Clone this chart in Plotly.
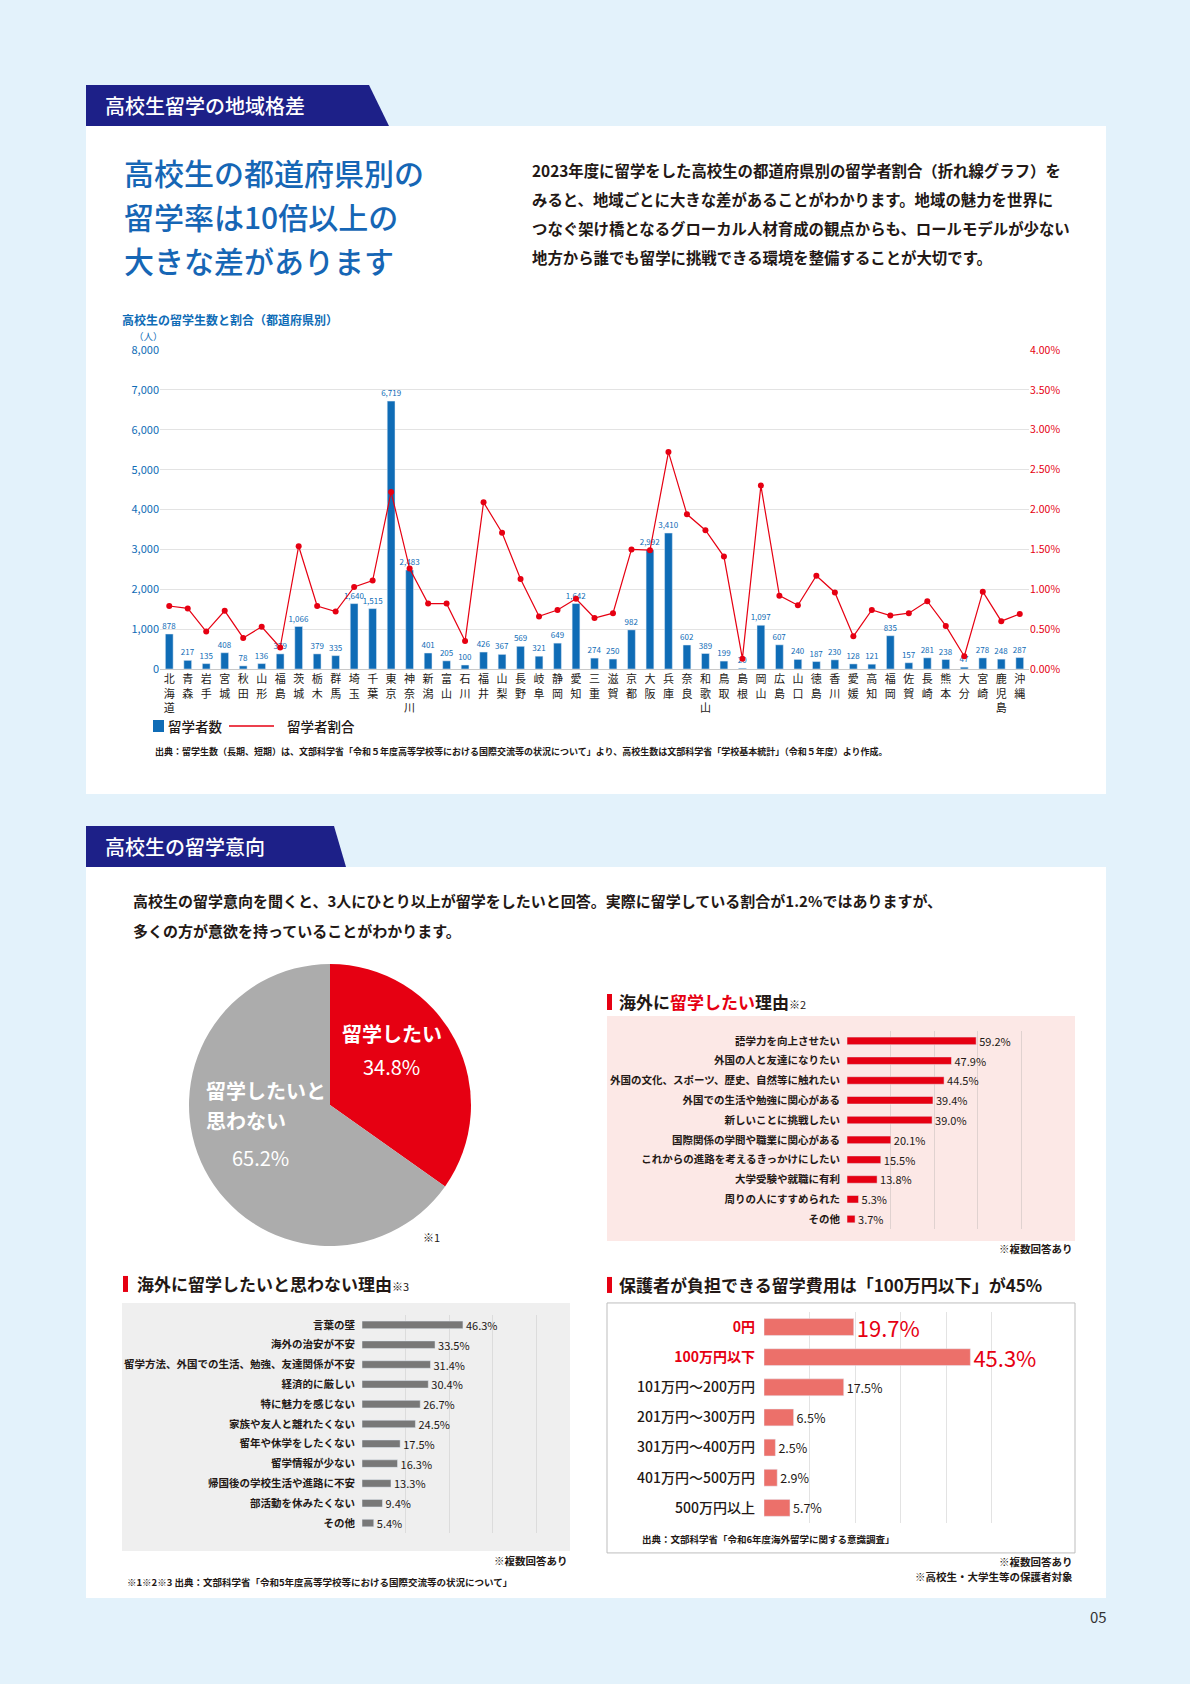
import plotly.graph_objects as go

W, H = 1190, 1684
FONT = "Noto Sans CJK JP"
BLUE = "#0f6cb6"
RED = "#e60012"
DARK = "#231815"
NAVY = "#1d2088"
BG = "#e3f2fb"

# --- data: prefecture chart ---
prefectures = [
    "北海道", "青森", "岩手", "宮城", "秋田", "山形", "福島", "茨城", "栃木", "群馬",
    "埼玉", "千葉", "東京", "神奈川", "新潟", "富山", "石川", "福井", "山梨", "長野",
    "岐阜", "静岡", "愛知", "三重", "滋賀", "京都", "大阪", "兵庫", "奈良", "和歌山",
    "鳥取", "島根", "岡山", "広島", "山口", "徳島", "香川", "愛媛", "高知", "福岡",
    "佐賀", "長崎", "熊本", "大分", "宮崎", "鹿児島", "沖縄",
]
students = [
    878, 217, 135, 408, 78, 136, 379, 1066, 379, 335,
    1640, 1515, 6719, 2483, 401, 205, 100, 426, 367, 569,
    321, 649, 1642, 274, 250, 982, 2992, 3410, 602, 389,
    199, 20, 1097, 607, 240, 187, 230, 128, 121, 835,
    157, 281, 238, 47, 278, 248, 287,
]
rate_pct = [
    0.79, 0.76, 0.47, 0.73, 0.39, 0.53, 0.27, 1.54, 0.79, 0.72,
    1.03, 1.11, 2.22, 1.26, 0.82, 0.82, 0.35, 2.09, 1.71, 1.13,
    0.66, 0.74, 0.88, 0.64, 0.70, 1.50, 1.49, 2.72, 1.94, 1.74,
    1.41, 0.13, 2.30, 0.92, 0.80, 1.17, 0.96, 0.41, 0.74, 0.67,
    0.70, 0.85, 0.54, 0.16, 0.97, 0.60, 0.69,
]

# --- data: intention pie ---
pie_labels = ["留学したい", "留学したいと思わない"]
pie_values = [34.8, 65.2]

# --- data: reasons to study abroad ---
want_reasons = [
    "語学力を向上させたい", "外国の人と友達になりたい", "外国の文化、スポーツ、歴史、自然等に触れたい",
    "外国での生活や勉強に関心がある", "新しいことに挑戦したい", "国際関係の学問や職業に関心がある",
    "これからの進路を考えるきっかけにしたい", "大学受験や就職に有利", "周りの人にすすめられた", "その他",
]
want_values = [59.2, 47.9, 44.5, 39.4, 39.0, 20.1, 15.5, 13.8, 5.3, 3.7]

# --- data: reasons not to ---
not_reasons = [
    "言葉の壁", "海外の治安が不安", "留学方法、外国での生活、勉強、友達関係が不安", "経済的に厳しい",
    "特に魅力を感じない", "家族や友人と離れたくない", "留年や休学をしたくない", "留学情報が少ない",
    "帰国後の学校生活や進路に不安", "部活動を休みたくない", "その他",
]
not_values = [46.3, 33.5, 31.4, 30.4, 26.7, 24.5, 17.5, 16.3, 13.3, 9.4, 5.4]

# --- data: cost parents can bear ---
cost_labels = ["0円", "100万円以下", "101万円～200万円", "201万円～300万円",
               "301万円～400万円", "401万円～500万円", "500万円以上"]
cost_values = [19.7, 45.3, 17.5, 6.5, 2.5, 2.9, 5.7]
cost_highlight = [True, True, False, False, False, False, False]


def fx(px):
    return px / W


def fy(py):
    # page shows the figure with an 8px top offset and slight vertical squeeze
    return 1 - (py * 1700 / 1684 - 8) / H


shapes = []
annotations = []


def rect(x0, y0, x1, y1, fill, line=None):
    shapes.append(dict(type="rect", xref="paper", yref="paper", layer="below",
                       x0=fx(x0), x1=fx(x1), y0=fy(y1), y1=fy(y0), fillcolor=fill,
                       line=dict(color=line or fill, width=1 if line else 0)))


def text(x, y, s, size=12, color=DARK, anchor="left", weight=None):
    f = dict(family=FONT, size=size, color=color)
    if weight:
        f["weight"] = weight
    annotations.append(dict(xref="paper", yref="paper", x=fx(x), y=fy(y), text=s,
                            showarrow=False, xanchor=anchor, yanchor="middle", font=f))


def tab(x0, x1, xtop, y0, y1, label):
    path = (f"M {fx(x0)} {fy(y0)} L {fx(xtop)} {fy(y0)} L {fx(x1)} {fy(y1)} "
            f"L {fx(x0)} {fy(y1)} Z")
    shapes.append(dict(type="path", xref="paper", yref="paper", path=path,
                       fillcolor=NAVY, line=dict(width=0)))
    text(x0 + 17, (y0 + y1) / 2, label, size=20, color="white", weight=500)


# page panels
rect(86, 125, 1106, 793, "white")
rect(86, 866, 1106, 1597, "white")
tab(86, 389, 369, 84, 125, "高校生留学の地域格差")
tab(86, 346, 334, 825, 866, "高校生の留学意向")

# section 1 texts
for i, line in enumerate(["高校生の都道府県別の", "留学率は10倍以上の", "大きな差があります"]):
    text(122, 171 + i * 44, line, size=30, color="#1666b5", weight=500)
para1 = [
    "2023年度に留学をした高校生の都道府県別の留学者割合（折れ線グラフ）を",
    "みると、地域ごとに大きな差があることがわかります。地域の魅力を世界に",
    "つなぐ架け橋となるグローカル人材育成の観点からも、ロールモデルが少ない",
    "地方から誰でも留学に挑戦できる環境を整備することが大切です。",
]
for i, line in enumerate(para1):
    text(530, 169 + i * 29, "<b>" + line + "</b>", size=15.4)

text(120, 318, "<b>高校生の留学生数と割合（都道府県別）</b>", size=12, color=BLUE)
text(148, 335, "（人）", size=9.5, color=BLUE, anchor="center")

# legend
rect(153, 719, 164, 731, BLUE)
text(166, 725, "留学者数", size=13.5, weight=500)
shapes.append(dict(type="line", xref="paper", yref="paper", x0=fx(229), x1=fx(274),
                   y0=fy(725), y1=fy(725), line=dict(color=RED, width=1.5)))
text(285, 725, "留学者割合", size=13.5, weight=500)
text(153, 750, "<b>出典：留学生数（長期、短期）は、文部科学省「令和５年度高等学校等における国際交流等の状況について」より、"
     "高校生数は文部科学省「学校基本統計」（令和５年度）より作成。</b>", size=9)

# section 2 texts
text(131, 900, "<b>高校生の留学意向を聞くと、3人にひとり以上が留学をしたいと回答。実際に留学している割合が1.2%ではありますが、</b>", size=15)
text(131, 930, "<b>多くの方が意欲を持っていることがわかります。</b>", size=15)

# pie labels
text(392, 1033, "<b>" + pie_labels[0] + "</b>", size=20, color="white", anchor="center")
text(391, 1066, f"{pie_values[0]}%", size=20, color="white", anchor="center")
text(204, 1090, "<b>留学したいと</b>", size=20, color="white")
text(204, 1120, "<b>思わない</b>", size=20, color="white")
text(260, 1157, f"{pie_values[1]}%", size=20, color="white", anchor="center")
text(421, 1236, "※1", size=11)

# bar chart boxes and headings
rect(607, 1015, 1075, 1240, "#fce8e6")
rect(122, 1302, 570, 1550, "#efefef")
rect(607, 1302, 1075, 1552, "white", line="#bdbdbd")
rect(607, 993, 612, 1009, RED)
rect(123, 1275, 128, 1291, RED)
rect(607, 1276, 612, 1292, RED)
text(617, 1001, "<b>海外に<span style='color:#e60012'>留学したい</span>理由</b>"
     "<span style='font-size:11px'>※2</span>", size=17)
text(135, 1283, "<b>海外に留学したいと思わない理由</b><span style='font-size:11px'>※3</span>", size=17)
text(617, 1284, "<b>保護者が負担できる留学費用は「100万円以下」が45%</b>", size=17)
text(1075, 1248, "<b>※複数回答あり</b>", size=10.5, anchor="right")
text(570, 1560, "<b>※複数回答あり</b>", size=10.5, anchor="right")
text(1075, 1561, "<b>※複数回答あり</b>", size=10.5, anchor="right")
text(1075, 1576, "<b>※高校生・大学生等の保護者対象</b>", size=10.5, anchor="right")
text(640, 1538, "<b>出典：文部科学省「令和6年度海外留学に関する意識調査」</b>", size=9.5)
text(125, 1581, "<b>※1※2※3 出典：文部科学省「令和5年度高等学校等における国際交流等の状況について」</b>", size=9.5)
text(1098, 1616, "05", size=15, color="#333333", anchor="center")

fig = go.Figure()

# prefecture bars + rate line
fig.add_trace(go.Bar(
    x=prefectures, y=students, width=0.42, marker_color=BLUE,
    text=[f"{v:,}" for v in students], textposition="outside", constraintext="none",
    textfont=dict(family=FONT, size=8, color=BLUE), cliponaxis=False,
    xaxis="x", yaxis="y", showlegend=False,
))
fig.add_trace(go.Scatter(
    x=prefectures, y=rate_pct, mode="lines+markers",
    line=dict(color=RED, width=1.2), marker=dict(color=RED, size=6),
    xaxis="x", yaxis="y2", showlegend=False,
))

# pie
fig.add_trace(go.Pie(
    values=pie_values, labels=pie_labels, sort=False, direction="clockwise", rotation=0,
    marker=dict(colors=[RED, "#acacac"], line=dict(width=0)), textinfo="none",
    domain=dict(x=[fx(189), fx(471)], y=[fy(1245), fy(963)]), showlegend=False,
))

# want reasons
fig.add_trace(go.Bar(
    y=want_reasons, x=want_values, orientation="h", width=0.38, marker_color=RED,
    text=[f"{v}%" for v in want_values], textposition="outside", constraintext="none",
    textfont=dict(family=FONT, size=11, color=DARK), cliponaxis=False,
    xaxis="x3", yaxis="y3", showlegend=False,
))
# not reasons
fig.add_trace(go.Bar(
    y=not_reasons, x=not_values, orientation="h", width=0.38, marker_color="#787878",
    text=[f"{v}%" for v in not_values], textposition="outside", constraintext="none",
    textfont=dict(family=FONT, size=11, color=DARK), cliponaxis=False,
    xaxis="x4", yaxis="y4", showlegend=False,
))
# cost
cost_ticktext = [
    f"<b><span style='color:{RED}'>{c}</span></b>" if h else c
    for c, h in zip(cost_labels, cost_highlight)
]
fig.add_trace(go.Bar(
    y=cost_labels, x=cost_values, orientation="h", width=0.56, marker_color="#ec706a",
    text=[f"{v}%" for v in cost_values], textposition="outside", constraintext="none",
    textfont=dict(family=FONT, size=[22 if h else 12.5 for h in cost_highlight],
                  color=[RED if h else DARK for h in cost_highlight]),
    cliponaxis=False, xaxis="x5", yaxis="y5", showlegend=False,
))

grid = "#e3e3e3"
fig.update_layout(
    width=W, height=H, margin=dict(l=0, r=0, t=0, b=0),
    paper_bgcolor=BG, plot_bgcolor="rgba(0,0,0,0)",
    font=dict(family=FONT, color=DARK),
    shapes=shapes, annotations=annotations, bargap=0.5,
    xaxis=dict(domain=[fx(160), fx(1029)], anchor="y", range=[-0.5, 46.5],
               tickvals=prefectures, ticktext=["<br>".join(p) for p in prefectures],
               tickfont=dict(size=11, color=DARK), ticks="", showgrid=False,
               showline=True, linecolor="#c8c8c8"),
    yaxis=dict(domain=[fy(668), fy(349)], anchor="x", range=[0, 8000], dtick=1000,
               tickformat=",", tickfont=dict(size=11, color=BLUE), showgrid=True,
               gridcolor=grid, zeroline=False, ticks=""),
    yaxis2=dict(overlaying="y", anchor="x", side="right", range=[0, 4], dtick=0.5,
                tickformat=".2f", ticksuffix="%", tickfont=dict(size=10.5, color=RED),
                showgrid=False, zeroline=False, ticks=""),
    xaxis3=dict(domain=[fx(847), fx(1063)], anchor="y3", range=[0, 99], dtick=20,
                showticklabels=False, showgrid=True, gridcolor="#e0d2d0", zeroline=False),
    yaxis3=dict(domain=[fy(1228), fy(1030)], anchor="x3", autorange="reversed",
                tickfont=dict(size=10.5, color=DARK, weight="bold"), ticks="",
                ticklabelstandoff=6, showgrid=False),
    xaxis4=dict(domain=[fx(362), fx(560)], anchor="y4", range=[0, 90.8], dtick=20,
                showticklabels=False, showgrid=True, gridcolor="#dcdcdc", zeroline=False),
    yaxis4=dict(domain=[fy(1532), fy(1314)], anchor="x4", autorange="reversed",
                tickfont=dict(size=10.5, color=DARK, weight="bold"), ticks="",
                ticklabelstandoff=6, showgrid=False),
    xaxis5=dict(domain=[fx(764), fx(1010)], anchor="y5", range=[0, 54], dtick=10,
                showticklabels=False, showgrid=True, gridcolor="#e3e3e3", zeroline=False),
    yaxis5=dict(domain=[fy(1522), fy(1311)], anchor="x5", autorange="reversed",
                tickvals=cost_labels, ticktext=cost_ticktext,
                tickfont=dict(size=14, color=DARK, weight=500), ticks="",
                ticklabelstandoff=8, showgrid=False),
)

fig.write_html("out.html", config={"displayModeBar": False},
               post_script="document.body.style.margin='0px';")
